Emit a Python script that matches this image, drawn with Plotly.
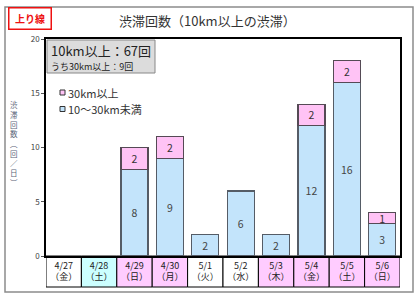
import plotly.graph_objects as go

dates = ["4/27", "4/28", "4/29", "4/30", "5/1", "5/2", "5/3", "5/4", "5/5", "5/6"]
days = ["金", "土", "日", "月", "火", "水", "木", "金", "土", "日"]
cell_colors = ["#ffffff", "#ccffff", "#ffccff", "#ffccff", "#ffffff", "#ffffff",
               "#ffccff", "#ffccff", "#ffccff", "#ffccff"]
under30 = [0, 0, 8, 9, 2, 6, 2, 12, 16, 3]
over30 = [0, 0, 2, 2, 0, 0, 0, 2, 2, 1]
yticks = [0, 5, 10, 15, 20]
BLUE, PINK = "#c3e4fb", "#ffc3f5"

FONT = "Noto Sans CJK JP"
W, H = 419, 298
L, R, T, B = 46, 19, 39, 42
pw, ph = W - L - R, H - T - B


def px(x):
    return (x - L) / pw


def py(y):
    return (H - B - y) / ph


xs = list(range(len(dates)))
ticktext = [f"{d}<br>（{w}）" for d, w in zip(dates, days)]

fig = go.Figure()
fig.add_trace(go.Bar(
    x=xs, y=[v if v else None for v in under30], name="10〜30km未満",
    marker=dict(color=BLUE, line=dict(color="#555c66", width=1.2)),
    text=[str(v) if v else "" for v in under30], textposition="inside",
    insidetextanchor="middle", constraintext="none", textangle=0,
    textfont=dict(size=10.5, color="#444444", family=FONT),
))
fig.add_trace(go.Bar(
    x=xs, y=[v if v else None for v in over30], name="30km以上",
    marker=dict(color=PINK, line=dict(color="#554a55", width=1.2)),
    text=[str(v) if v else "" for v in over30], textposition="inside",
    insidetextanchor="middle", constraintext="none", textangle=0,
    textfont=dict(size=10.5, color="#333333", family=FONT),
))

shapes = []
for i, c in enumerate(cell_colors):
    shapes.append(dict(type="rect", xref="x", yref="paper", x0=i - 0.5, x1=i + 0.5,
                       y0=py(287), y1=0, fillcolor=c, line=dict(color="black", width=1),
                       layer="below"))
shapes.append(dict(type="rect", xref="paper", yref="paper", x0=px(5), x1=px(413),
                   y0=py(292), y1=py(7), line=dict(color="#8c8c8c", width=1.5)))
shapes.append(dict(type="rect", xref="paper", yref="paper", x0=px(47), x1=px(155),
                   y0=py(73), y1=py(40), fillcolor="#dcdcdc",
                   line=dict(color="#888888", width=1)))
for yy, col in [(92.5, PINK), (109, BLUE)]:
    shapes.append(dict(type="rect", xref="paper", yref="paper", x0=px(60), x1=px(65),
                       y0=py(yy + 2.5), y1=py(yy - 2.5), fillcolor=col,
                       line=dict(color="#333333", width=1)))


def ann(text, x, y, size, color="#333333", xa="center", ya="middle", **kw):
    return dict(text=text, xref="paper", yref="paper", x=px(x), y=py(y),
                xanchor=xa, yanchor=ya, showarrow=False,
                font=dict(size=size, color=color, family=FONT), **kw)


annotations = [
    ann("渋滞回数（10km以上の渋滞）", 207, 20, 13),
    ann("<b>上り線</b>", 29.5, 18, 10, color="#ee1111", bordercolor="#ee1111",
        borderwidth=1.5, borderpad=1, width=39, height=18, bgcolor="white"),
    ann("10km以上：67回", 49, 50, 13, color="#222222", xa="left"),
    ann("うち30km以上：9回", 49, 66, 9, color="#222222", xa="left"),
    ann("30km以上", 66, 92.5, 11, xa="left"),
    ann("10〜30km未満", 66, 109, 11, xa="left"),
    ann("<br>".join(list("渋滞回数︵回／日︶")), 14, 143, 7.5, color="#5a6478"),
]

fig.update_layout(
    width=W, height=H, margin=dict(l=L, r=R, t=T, b=B),
    paper_bgcolor="white", plot_bgcolor="white",
    barmode="stack", bargap=0.24,
    font=dict(family=FONT, color="#333333"),
    showlegend=False,
    shapes=shapes, annotations=annotations,
    xaxis=dict(tickmode="array", tickvals=xs, ticktext=ticktext, range=[-0.5, 9.5],
               showline=True, linecolor="black", linewidth=1.5, mirror=True,
               ticks="", tickfont=dict(size=9, color="#222222", family=FONT),
               showgrid=False, zeroline=False, fixedrange=True),
    yaxis=dict(range=[0, 20], tickvals=yticks, showline=True, linecolor="black",
               linewidth=1.5, mirror=True, ticks="outside", ticklen=3, tickcolor="#555",
               tickfont=dict(size=8, color="#444444", family=FONT), showgrid=False,
               zeroline=False, fixedrange=True),
)

fig.write_html("out.html")
